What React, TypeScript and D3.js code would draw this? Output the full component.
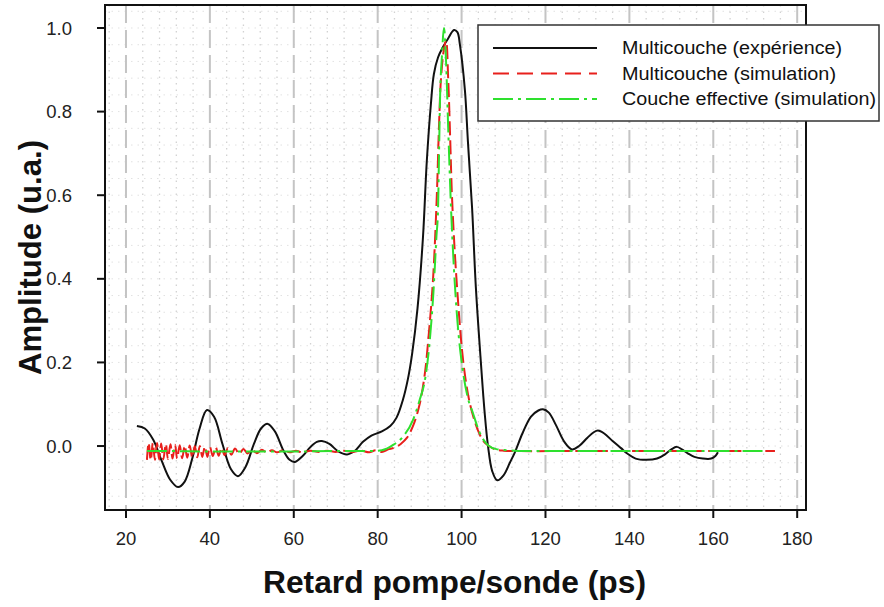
import React from "react";
import * as d3 from "d3";

// ---- Data ----
const expX = [22.6, 24.5, 26.5, 28.5, 30.5, 32.4, 34.0, 35.8, 37.5, 39.3, 41.0, 43.0, 45.0, 46.7, 48.5, 50.5, 52.2, 53.8, 55.5, 57.5, 59.0, 60.3, 62.0, 64.0, 65.5, 66.7, 68.5, 70.5, 72.7, 74.5, 76.5, 78.5, 81.0, 83.0, 84.5, 86.0, 87.2, 88.2, 89.5, 90.8, 91.7, 92.7, 93.4, 94.4, 95.6, 96.8, 98.2, 99.0, 99.6, 100.8, 101.5, 102.5, 103.4, 104.6, 105.5, 106.3, 107.3, 108.5, 110.0, 111.5, 112.7, 114.5, 116.5, 118.3, 119.4, 120.8, 122.5, 124.5, 126.3, 128.0, 130.0, 131.5, 132.5, 134.0, 136.0, 138.0, 139.5, 141.5, 144.0, 146.6, 148.5, 150.0, 151.3, 152.5, 154.0, 155.5, 157.5, 159.5, 160.5, 161.1];
const expY = [0.048, 0.042, 0.015, -0.035, -0.080, -0.098, -0.085, -0.030, 0.040, 0.086, 0.070, 0.005, -0.055, -0.072, -0.050, 0.005, 0.042, 0.053, 0.035, -0.010, -0.033, -0.038, -0.025, -0.002, 0.010, 0.012, 0.005, -0.012, -0.020, -0.012, 0.010, 0.025, 0.035, 0.048, 0.068, 0.11, 0.16, 0.22, 0.33, 0.50, 0.68, 0.82, 0.89, 0.93, 0.955, 0.975, 0.995, 0.99, 0.96, 0.85, 0.73, 0.57, 0.38, 0.20, 0.08, 0.0, -0.06, -0.082, -0.07, -0.04, -0.015, 0.030, 0.070, 0.085, 0.088, 0.080, 0.050, 0.010, -0.008, 0.0, 0.020, 0.033, 0.037, 0.030, 0.012, -0.005, -0.018, -0.030, -0.033, -0.030, -0.020, -0.008, -0.002, -0.008, -0.018, -0.026, -0.030, -0.030, -0.024, -0.015];

const simX = [25.0, 25.4, 25.9, 26.4, 26.9, 27.4, 27.9, 28.4, 28.9, 29.5, 30.0, 30.6, 31.1, 31.7, 32.2, 32.8, 33.4, 34.0, 34.6, 35.2, 35.8, 36.4, 37.0, 37.6, 38.2, 38.8, 39.4, 40.0, 40.7, 41.4, 42.1, 42.8, 43.5, 44.3, 45.1, 46.0, 47.0, 48.0, 49.0, 50.0, 51.2, 52.4, 53.6, 54.8, 56.0, 57.5, 59.0, 60.5, 62.0, 64.0, 66.0, 68.0, 70.0, 72.0, 74.0, 76.0, 78.0, 79.5, 81.0, 82.5, 84.0, 85.5, 87.0, 88.5, 90.0, 91.2, 92.2, 93.2, 94.1, 94.6, 95.1, 95.8, 96.3, 96.8, 97.3, 97.7, 98.4, 99.2, 100.0, 100.8, 101.8, 102.8, 104.0, 105.2, 106.5, 108.0, 110.0, 114.0, 130.0, 150.0, 174.7];
const simY = [-0.033, 0.008, -0.034, 0.007, -0.033, 0.007, -0.032, 0.006, -0.032, 0.005, -0.031, 0.004, -0.030, 0.003, -0.030, 0.002, -0.029, 0.001, -0.028, 0.001, -0.028, 0.0, -0.027, 0.0, -0.026, -0.001, -0.026, -0.002, -0.024, -0.003, -0.023, -0.004, -0.022, -0.005, -0.021, -0.006, -0.019, -0.007, -0.018, -0.008, -0.017, -0.009, -0.016, -0.010, -0.015, -0.010, -0.015, -0.011, -0.015, -0.011, -0.014, -0.011, -0.014, -0.011, -0.014, -0.011, -0.015, -0.010, -0.014, -0.008, -0.004, 0.005, 0.020, 0.050, 0.10, 0.17, 0.27, 0.40, 0.60, 0.76, 0.88, 0.95, 0.97, 0.88, 0.73, 0.60, 0.46, 0.34, 0.24, 0.17, 0.11, 0.07, 0.035, 0.012, 0.0, -0.008, -0.011, -0.012, -0.012, -0.012, -0.012];

const effX = [25.0, 30.0, 40.0, 50.0, 60.0, 70.0, 78.0, 81.0, 83.6, 86.0, 88.4, 90.0, 91.3, 92.3, 93.3, 94.0, 94.4, 94.6, 94.9, 95.3, 95.8, 96.3, 96.8, 97.5, 98.2, 99.0, 100.3, 101.5, 102.7, 104.0, 104.8, 106.3, 108.5, 110.8, 115.0, 140.0, 172.3];
const effY = [-0.012, -0.012, -0.013, -0.013, -0.013, -0.012, -0.012, -0.010, 0.002, 0.022, 0.062, 0.11, 0.16, 0.24, 0.37, 0.50, 0.57, 0.685, 0.845, 0.93, 1.0, 0.92, 0.763, 0.565, 0.42, 0.30, 0.18, 0.115, 0.079, 0.040, 0.022, 0.002, -0.008, -0.010, -0.012, -0.012, -0.012];

const xTicks = [20, 40, 60, 80, 100, 120, 140, 160, 180];
const yTicks = [0.0, 0.2, 0.4, 0.6, 0.8, 1.0];
const legendLabels = ["Multicouche (expérience)", "Multicouche (simulation)", "Couche effective (simulation)"];
const xTitle = "Retard pompe/sonde (ps)";
const yTitle = "Amplitude (u.a.)";

export default function App() {
  const W = 884, H = 607;
  const left = 105, right = 806, top = 5, bottom = 510;
  const x = d3.scaleLinear().domain([15, 182.1]).range([left, right]);
  const y = d3.scaleLinear().domain([-0.153, 1.055]).range([bottom, top]);

  const toPts = (xs: number[], ys: number[]) => xs.map((v, i) => [v, ys[i]] as [number, number]);
  const lineSmooth = d3.line<[number, number]>().x(d => x(d[0])).y(d => y(d[1])).curve(d3.curveCatmullRom.alpha(0.5));
  const lineMono = d3.line<[number, number]>().x(d => x(d[0])).y(d => y(d[1])).curve(d3.curveMonotoneX);

  const minorX = d3.range(16, 182, 4).filter(v => v % 20 !== 0);
  const minorY = d3.range(-0.12, 1.05, 0.04);

  const font = "'Liberation Sans', Arial, sans-serif";
  const legendRows = [
    { color: "#111", dash: "none", len: 220 },
    { color: "#e8201c", dash: "16,8", len: 214 },
    { color: "#2ee02e", dash: "20,5,3,5", len: 254 },
  ];

  return (
    <svg width={W} height={H} style={{ position: "absolute", left: 0, top: 0, background: "#fff" }} fontFamily={font}>
      <rect x={0} y={0} width={W} height={H} fill="#fff" />
      <defs>
        <clipPath id="plotclip">
          <rect x={left} y={top} width={right - left} height={bottom - top} />
        </clipPath>
      </defs>
      {/* minor dotted grid */}
      {minorX.map(v => (
        <line key={"mx" + v} x1={x(v)} x2={x(v)} y1={top} y2={bottom} stroke="#d2d2d2" strokeWidth={1.3} strokeDasharray="1.5,5" />
      ))}
      {minorY.map((v, i) => (
        <line key={"my" + i} x1={left} x2={right} y1={y(v)} y2={y(v)} stroke="#e2e2e2" strokeWidth={1} strokeDasharray="1.5,5" />
      ))}
      {/* major dashed vertical grid */}
      {xTicks.map(v => (
        <line key={"gx" + v} x1={x(v)} x2={x(v)} y1={top} y2={bottom} stroke="#c4c4c4" strokeWidth={2} strokeDasharray="18,7" />
      ))}
      {/* curves */}
      <g clipPath="url(#plotclip)">
        <path d={lineSmooth(toPts(expX, expY)) || ""} fill="none" stroke="#111" strokeWidth={2} />
        <path d={lineSmooth(toPts(simX, simY)) || ""} fill="none" stroke="#e8201c" strokeWidth={2} strokeDasharray="14,5" />
        <path d={lineMono(toPts(effX, effY)) || ""} fill="none" stroke="#2ee02e" strokeWidth={2} strokeDasharray="20,5,3,5" />
      </g>
      {/* frame */}
      <rect x={left} y={top} width={right - left} height={bottom - top} fill="none" stroke="#111" strokeWidth={2} />
      {/* y ticks */}
      {yTicks.map(v => (
        <g key={"yt" + v}>
          <line x1={left - 8} x2={left} y1={y(v)} y2={y(v)} stroke="#111" strokeWidth={2} />
          <text x={72} y={y(v)} dy="0.36em" textAnchor="end" fontSize={18.5} fill="#222">{v.toFixed(1)}</text>
        </g>
      ))}
      {/* x ticks */}
      {xTicks.map(v => (
        <g key={"xt" + v}>
          <line x1={x(v)} x2={x(v)} y1={bottom} y2={bottom + 8} stroke="#111" strokeWidth={2} />
          <text x={x(v)} y={545} textAnchor="middle" fontSize={18.5} fill="#222">{v}</text>
        </g>
      ))}
      {/* axis titles */}
      <text x={(left + right) / 2 - 1} y={593} textAnchor="middle" fontSize={31} fontWeight="bold" fill="#111" textLength={383} lengthAdjust="spacingAndGlyphs">{xTitle}</text>
      <text transform={`translate(41, ${(top + bottom) / 2}) rotate(-90)`} textAnchor="middle" fontSize={31} fontWeight="bold" fill="#111" textLength={235} lengthAdjust="spacingAndGlyphs">{yTitle}</text>
      {/* legend */}
      <rect x={478} y={25} width={401} height={96} fill="#fff" stroke="#333" strokeWidth={1.5} />
      {legendLabels.map((lab, i) => {
        const ly = 48 + i * 25.5;
        return (
          <g key={"lg" + i}>
            <line x1={493} x2={597} y1={ly} y2={ly} stroke={legendRows[i].color} strokeWidth={2} strokeDasharray={legendRows[i].dash} />
            <text x={622} y={ly} dy="0.36em" fontSize={18} fill="#111" textLength={legendRows[i].len} lengthAdjust="spacingAndGlyphs">{lab}</text>
          </g>
        );
      })}
    </svg>
  );
}
